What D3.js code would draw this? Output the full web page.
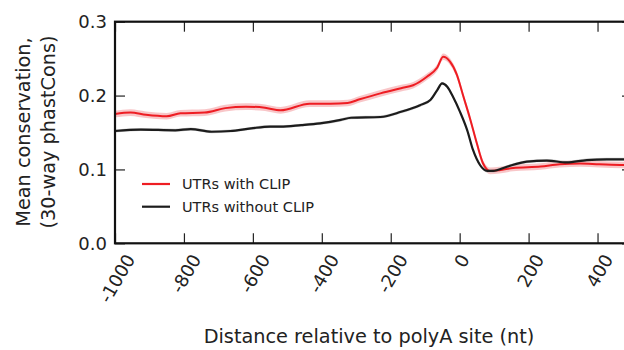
<!DOCTYPE html>
<html>
<head>
<meta charset="utf-8">
<script src="https://cdn.jsdelivr.net/npm/d3@7"></script>
<style>
  body { margin: 0; background: #fff; }
  svg { display: block; font-family: "DejaVu Sans", sans-serif; }
</style>
</head>
<body>
<div id="chart"></div>
<script>
// values (position in nt, mean phastCons)
const redPos = [-1000, -955, -910, -850, -810, -740, -680, -620, -565, -520, -435, -375, -325, -290, -230, -170, -135, -95, -65, -48, -28, -8, 10, 30, 50, 68, 88, 115, 155, 235, 290, 350, 405, 475, 500];
const redVal = [0.175, 0.177, 0.174, 0.172, 0.176, 0.177, 0.183, 0.185, 0.1835, 0.180, 0.189, 0.189, 0.190, 0.195, 0.203, 0.210, 0.214, 0.2255, 0.238, 0.2525, 0.246, 0.228, 0.200, 0.169, 0.135, 0.108, 0.098, 0.099, 0.102, 0.104, 0.107, 0.108, 0.107, 0.106, 0.106];
const blackPos = [-1000, -925, -825, -780, -720, -665, -605, -550, -520, -460, -405, -345, -315, -230, -170, -115, -85, -65, -51, -36, -19, 1, 22, 39, 59, 80, 97, 137, 195, 253, 311, 369, 427, 476, 500];
const blackVal = [0.152, 0.154, 0.153, 0.1547, 0.151, 0.152, 0.1556, 0.158, 0.158, 0.160, 0.1624, 0.167, 0.170, 0.171, 0.178, 0.187, 0.194, 0.2075, 0.2165, 0.212, 0.198, 0.178, 0.153, 0.126, 0.106, 0.098, 0.098, 0.1037, 0.1105, 0.112, 0.1095, 0.1127, 0.1137, 0.1137, 0.114];
const redSpread = 0.0045;
const blackSpread = 0.002;

const seriesNames = ["UTRs with CLIP", "UTRs without CLIP"];
const xTicks = [-1000, -800, -600, -400, -200, 0, 200, 400];
const yTicks = [0.0, 0.1, 0.2, 0.3];

const width = 624, height = 350;
const plot = { left: 115, right: 632, top: 21.7, bottom: 243.3 };

const svg = d3.select("#chart").append("svg")
    .attr("width", width)
    .attr("height", height);

const x = d3.scaleLinear().domain([-1000, 500]).range([plot.left, plot.right]);
const y = d3.scaleLinear().domain([0, 0.3]).range([plot.bottom, plot.top]);

const red = redPos.map((p, i) => ({ p: p, v: redVal[i] }));
const black = blackPos.map((p, i) => ({ p: p, v: blackVal[i] }));

const band = s => d3.area()
    .x(d => x(d.p))
    .y0(d => y(d.v - s))
    .y1(d => y(d.v + s))
    .curve(d3.curveMonotoneX);
const line = d3.line()
    .x(d => x(d.p))
    .y(d => y(d.v))
    .curve(d3.curveMonotoneX);

// bands
svg.append("path").datum(red).attr("d", band(redSpread))
    .attr("fill", "#f6b8ba").attr("opacity", 0.8);
svg.append("path").datum(black).attr("d", band(blackSpread))
    .attr("fill", "#b8b8b8").attr("opacity", 0.7);

// lines
svg.append("path").datum(red).attr("d", line)
    .attr("fill", "none").attr("stroke", "#ee1d23").attr("stroke-width", 2);
svg.append("path").datum(black).attr("d", line)
    .attr("fill", "none").attr("stroke", "#1c1c1c").attr("stroke-width", 2.2);

// ticks, pointing inward on all four sides
const tickLen = 10;
const axes = [
    { axis: d3.axisBottom(x).tickValues(xTicks), at: `translate(0,${plot.bottom})` },
    { axis: d3.axisTop(x).tickValues(xTicks), at: `translate(0,${plot.top})` },
    { axis: d3.axisLeft(y).tickValues(yTicks), at: `translate(${plot.left},0)` },
    { axis: d3.axisRight(y).tickValues(yTicks), at: `translate(${plot.right},0)` }
];
axes.forEach(a => {
    const g = svg.append("g")
        .attr("transform", a.at)
        .call(a.axis.tickSizeInner(-tickLen).tickSizeOuter(0).tickFormat(""));
    g.select(".domain").remove();
    g.selectAll(".tick line").attr("stroke", "#222").attr("stroke-width", 1.2);
});

// frame
svg.append("rect")
    .attr("x", plot.left).attr("y", plot.top)
    .attr("width", plot.right - plot.left).attr("height", plot.bottom - plot.top)
    .attr("fill", "none").attr("stroke", "#111").attr("stroke-width", 2.2);

// y tick labels
svg.append("g").selectAll("text")
    .data(yTicks)
    .enter()
    .append("text")
    .attr("x", 107)
    .attr("y", d => y(d))
    .attr("dy", "0.36em")
    .attr("text-anchor", "end")
    .attr("font-size", 18)
    .attr("fill", "#222")
    .text(d => d.toFixed(1));

// x tick labels, rotated 60 degrees
const labelTop = 251.5;
const fs = 18;
const angle = 60 * Math.PI / 180;
svg.append("g").selectAll("text")
    .data(xTicks)
    .enter()
    .append("text")
    .attr("text-anchor", "middle")
    .attr("dy", "0.36em")
    .attr("font-size", fs)
    .attr("fill", "#222")
    .text(d => d)
    .each(function(d) {
        const w = this.getComputedTextLength();
        const cy = labelTop + (w * Math.sin(angle) + fs * 0.95 * Math.cos(angle)) / 2;
        const cx = x(d) + 2;
        d3.select(this)
            .attr("x", cx).attr("y", cy)
            .attr("transform", `rotate(-60,${cx},${cy})`);
    });

// axis titles
svg.append("text")
    .attr("x", 369)
    .attr("y", 343.3)
    .attr("text-anchor", "middle")
    .attr("font-size", 19.3)
    .attr("fill", "#222")
    .text("Distance relative to polyA site (nt)");

const yTitle = ["Mean conservation,", "(30-way phastCons)"];
svg.append("g").selectAll("text")
    .data(yTitle)
    .enter()
    .append("text")
    .attr("transform", (d, i) => `translate(${29.5 + i * 25.5},132) rotate(-90)`)
    .attr("text-anchor", "middle")
    .attr("font-size", 19.3)
    .attr("fill", "#222")
    .text(d => d);

// legend
const legendColors = ["#ee1d23", "#1c1c1c"];
const legend = svg.append("g")
    .attr("transform", "translate(142,184)");

const items = legend.selectAll(".legend")
    .data(seriesNames)
    .enter()
    .append("g")
    .attr("class", "legend")
    .attr("transform", (d, i) => `translate(0,${i * 22.7})`);

items.append("line")
    .attr("x1", 0).attr("x2", 28)
    .attr("y1", 0).attr("y2", 0)
    .attr("stroke", (d, i) => legendColors[i])
    .attr("stroke-width", 2.2);

items.append("text")
    .attr("x", 40)
    .attr("y", 0)
    .attr("dy", "0.36em")
    .attr("font-size", 14.5)
    .attr("fill", "#222")
    .text(d => d);
</script>
</body>
</html>
